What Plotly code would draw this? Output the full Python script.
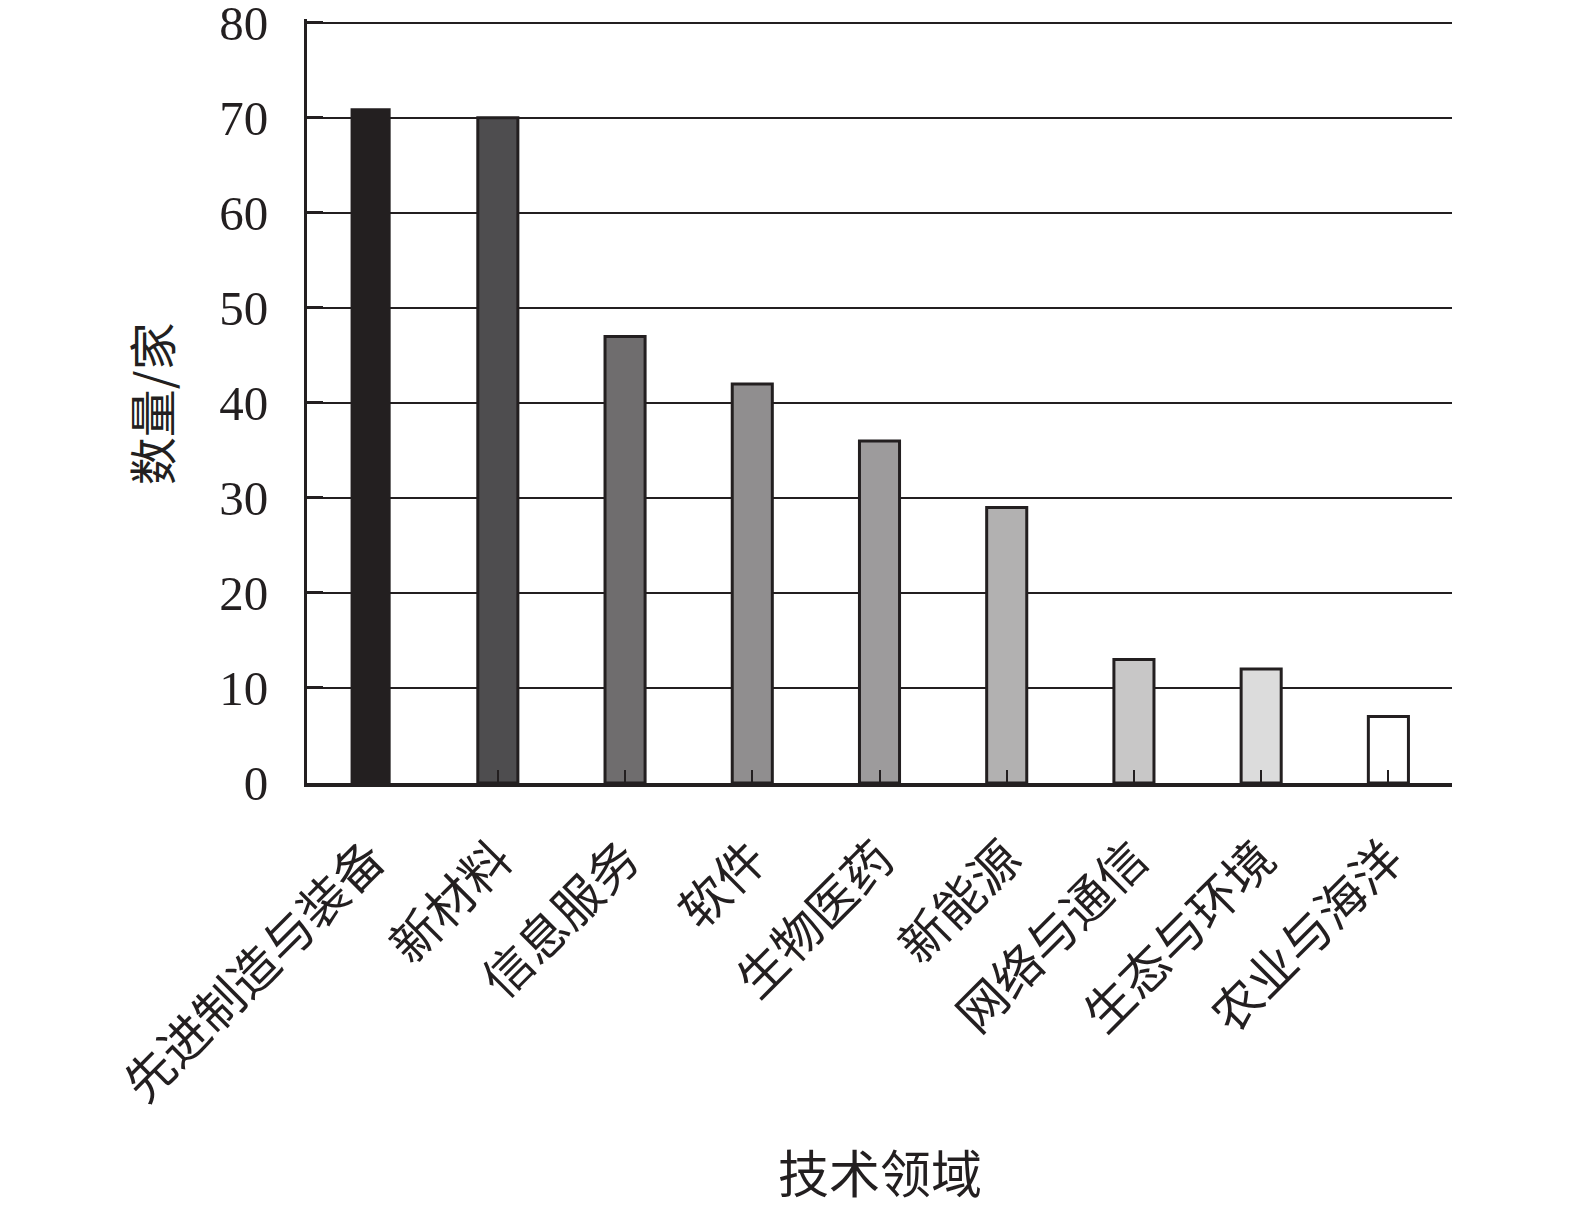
import plotly.graph_objects as go

categories = ["先进制造与装备", "新材料", "信息服务", "软件", "生物医药",
              "新能源", "网络与通信", "生态与环境", "农业与海洋"]
values = [71, 70, 47, 42, 36, 29, 13, 12, 7]
bar_colors = ["#231f20", "#4e4d4f", "#6f6d6e", "#908e8f", "#9d9b9c",
              "#b2b1b1", "#c8c7c7", "#dcdcdc", "#ffffff"]
line_widths = [0, 3, 3, 3, 3, 3, 3, 3, 3]
y_ticks = [0, 10, 20, 30, 40, 50, 60, 70, 80]

INK = "#231f20"
CJK = "Noto Sans CJK SC"

fig = go.Figure(go.Bar(
    x=categories, y=values, width=0.315,
    marker=dict(color=bar_colors, line=dict(color=INK, width=line_widths)),
))

# page body has an 8px margin, so the figure is 8px smaller and shifted
fig.update_layout(
    width=1567, height=1199,
    margin=dict(l=299, r=123, t=11, b=424, autoexpand=False),
    paper_bgcolor="white", plot_bgcolor="white",
    font=dict(family="Liberation Serif, " + CJK, size=44, color=INK),
    showlegend=False,
    xaxis=dict(
        automargin=False,
        tickangle=-45, ticks="inside", ticklen=13, tickwidth=2, tickcolor=INK,
        showline=True, linecolor=INK, linewidth=3.5, showgrid=False,
        ticklabelstandoff=24,
        tickfont=dict(family=CJK, size=49),
    ),
    yaxis=dict(
        automargin=False,
        range=[0, 80.4], tickvals=y_ticks, ticks="inside", ticklen=16, tickwidth=3,
        tickcolor=INK, showline=True, linecolor=INK, linewidth=3,
        showgrid=True, gridcolor=INK, gridwidth=2, zeroline=False,
        ticklabelstandoff=26, ticklabeloverflow="allow",
        tickfont=dict(family="Liberation Serif", size=49),
    ),
    annotations=[
        dict(text="数量/家", textangle=-90, x=-0.137, y=0.496, xref="paper", yref="paper",
             xanchor="center", yanchor="middle",
             showarrow=False, font=dict(family=CJK, size=48)),
        dict(text="技术领域", x=0.5, y=-0.508, xref="paper", yref="paper",
             xanchor="center", yanchor="middle",
             showarrow=False, font=dict(family=CJK, size=51)),
    ],
)

fig.write_html("out.html")
